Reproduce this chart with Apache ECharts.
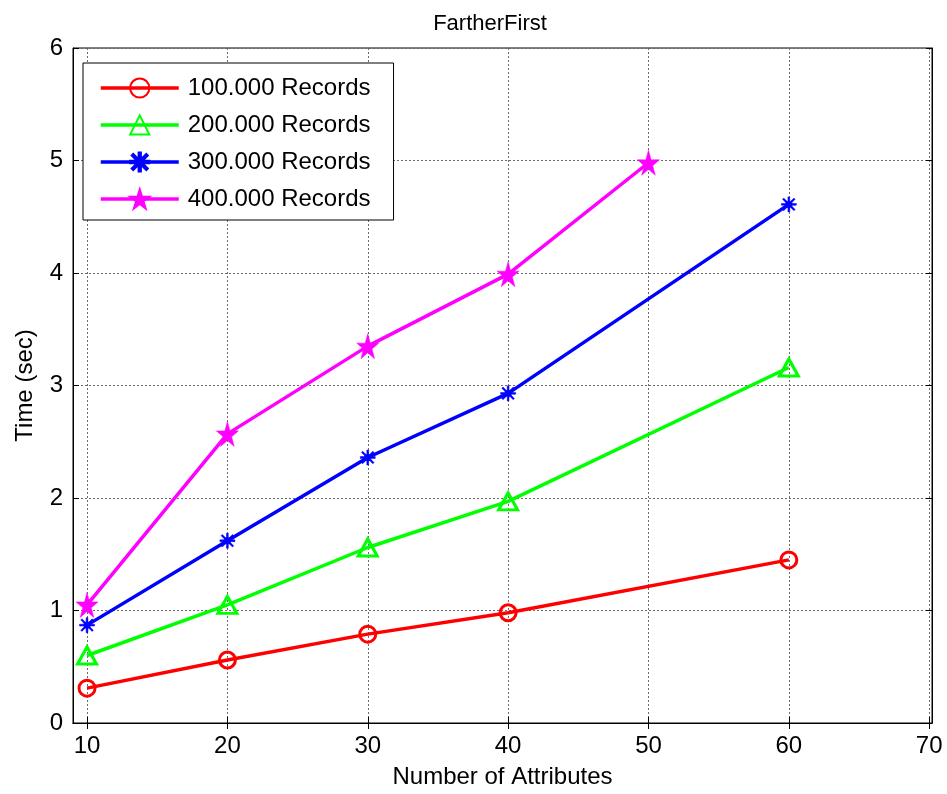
<!DOCTYPE html>
<html>
<head>
<meta charset="utf-8">
<script src="https://cdn.jsdelivr.net/npm/echarts@6/dist/echarts.min.js"></script>
<style>
  html, body { margin: 0; padding: 0; background: #fff; }
  #chart { width: 947px; height: 794px; }
</style>
</head>
<body>
<div id="chart"></div>
<script>
// Number of attributes on the x axis, time in seconds on the y axis
const xTicks = [10, 20, 30, 40, 50, 60, 70];
const yTicks = [0, 1, 2, 3, 4, 5, 6];

const attrs100k = [10, 20, 30, 40, 60];
const time100k = [0.31, 0.56, 0.79, 0.98, 1.45];

const attrs200k = [10, 20, 30, 40, 60];
const time200k = [0.60, 1.05, 1.56, 1.97, 3.16];

const attrs300k = [10, 20, 30, 40, 60];
const time300k = [0.87, 1.62, 2.36, 2.93, 4.61];

const attrs400k = [10, 20, 30, 40, 50];
const time400k = [1.05, 2.57, 3.35, 3.99, 4.98];

const seriesNames = ['100.000 Records', '200.000 Records', '300.000 Records', '400.000 Records'];

// Marker shapes
const asteriskPath = 'path://M44,0 L56,0 L56,100 L44,100 Z M0,44 L100,44 L100,56 L0,56 Z ' +
  'M8,16 L16,8 L92,84 L84,92 Z M84,8 L92,16 L16,92 L8,84 Z M30,30 L70,30 L70,70 L30,70 Z';
const starPath = 'path://M50,0 L61.2,34.5 L97.6,34.5 L68.2,55.9 L79.4,90.5 L50,69.1 L20.6,90.5 L31.8,55.9 L2.4,34.5 L38.8,34.5 Z';

function pairs(xs, ys) {
  return xs.map((x, i) => [x, ys[i]]);
}

const font = 'Liberation Sans, Arial, sans-serif';
const clear = 'rgba(0,0,0,0)';
const gridLine = { show: true, lineStyle: { color: '#6a6a6a', width: 1, type: [2, 2] } };

const chart = echarts.init(document.getElementById('chart'), null, { renderer: 'canvas' });

chart.setOption({
  backgroundColor: '#ffffff',
  animation: false,
  textStyle: { fontFamily: font },
  title: {
    text: 'FartherFirst',
    left: 485,
    top: 8,
    textAlign: 'center',
    textStyle: { fontFamily: font, fontSize: 22, fontWeight: 'normal', color: '#000' }
  },
  grid: {
    left: 73, right: 15, top: 48, bottom: 70,
    show: true, borderColor: '#000', borderWidth: 1, backgroundColor: '#fff'
  },
  legend: {
    orient: 'vertical',
    left: 83, top: 63,
    padding: [13, 23, 9, 16],
    itemWidth: 78,
    itemHeight: 24,
    itemGap: 13,
    backgroundColor: '#fff',
    borderColor: '#000',
    borderWidth: 1,
    lineStyle: { width: 3.5 },
    textStyle: { fontFamily: font, fontSize: 24, color: '#000', padding: [0, 0, 0, 4] },
    data: seriesNames
  },
  xAxis: [{
    type: 'value',
    min: 9, max: 70.2,
    position: 'bottom',
    name: 'Number of Attributes',
    nameLocation: 'middle',
    nameGap: 42,
    nameTextStyle: { fontFamily: font, fontSize: 24, color: '#000' },
    axisLine: { show: true, lineStyle: { color: '#000', width: 1 } },
    axisTick: { show: true, inside: true, length: 6, customValues: xTicks, lineStyle: { color: '#000' } },
    axisLabel: { customValues: xTicks, fontFamily: font, fontSize: 24, color: '#000', margin: 11 },
    splitLine: gridLine
  }, {
    type: 'value',
    min: 9, max: 70.2,
    position: 'top',
    axisLine: { show: true, lineStyle: { color: '#000', width: 1 } },
    axisTick: { show: true, inside: true, length: 6, customValues: xTicks, lineStyle: { color: '#000' } },
    axisLabel: { show: false },
    splitLine: { show: false }
  }],
  yAxis: [{
    type: 'value',
    min: 0, max: 6, interval: 1,
    position: 'left',
    name: 'Time (sec)',
    nameLocation: 'middle',
    nameGap: 36,
    nameTextStyle: { fontFamily: font, fontSize: 24, color: '#000' },
    axisLine: { show: true, lineStyle: { color: '#000', width: 1 } },
    axisTick: { show: true, inside: true, length: 6, lineStyle: { color: '#000' } },
    axisLabel: { fontFamily: font, fontSize: 24, color: '#000', margin: 10 },
    splitLine: gridLine
  }, {
    type: 'value',
    min: 0, max: 6, interval: 1,
    position: 'right',
    axisLine: { show: true, lineStyle: { color: '#000', width: 1 } },
    axisTick: { show: true, inside: true, length: 6, lineStyle: { color: '#000' } },
    axisLabel: { show: false },
    splitLine: { show: false }
  }],
  series: [{
    name: seriesNames[0],
    type: 'line',
    data: pairs(attrs100k, time100k),
    color: '#ff0000',
    lineStyle: { color: '#ff0000', width: 3.5 },
    symbol: 'circle',
    symbolSize: 16,
    itemStyle: { color: clear, borderColor: '#ff0000', borderWidth: 3 }
  }, {
    name: seriesNames[1],
    type: 'line',
    data: pairs(attrs200k, time200k),
    color: '#00ff00',
    lineStyle: { color: '#00ff00', width: 3.5 },
    symbol: 'triangle',
    symbolSize: [19, 17],
    itemStyle: { color: clear, borderColor: '#00ff00', borderWidth: 3 }
  }, {
    name: seriesNames[2],
    type: 'line',
    data: pairs(attrs300k, time300k),
    color: '#0000ff',
    lineStyle: { color: '#0000ff', width: 3.5 },
    symbol: asteriskPath,
    symbolSize: 15,
    itemStyle: { color: '#0000ff', borderColor: '#0000ff', borderWidth: 0.5 }
  }, {
    name: seriesNames[3],
    type: 'line',
    data: pairs(attrs400k, time400k),
    color: '#ff00ff',
    lineStyle: { color: '#ff00ff', width: 3.5 },
    symbol: starPath,
    symbolSize: [22, 25],
    itemStyle: { color: '#ff00ff', borderColor: '#ff00ff', borderWidth: 0.5 }
  }]
});
</script>
</body>
</html>
